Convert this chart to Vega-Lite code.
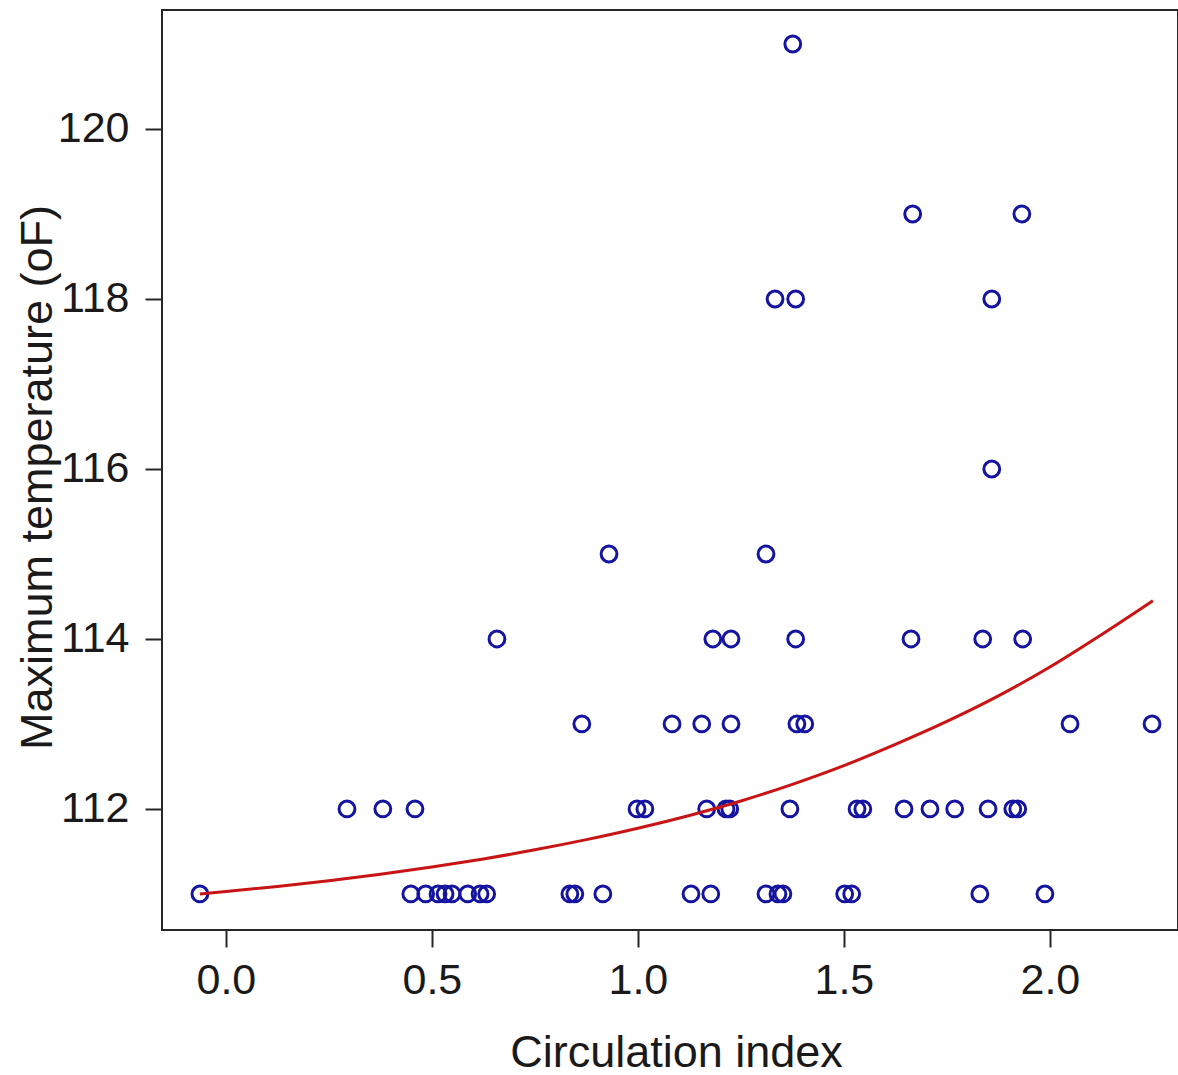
{
  "$schema": "https://vega.github.io/schema/vega-lite/v6.json",
  "width": 1016,
  "height": 920,
  "autosize": {"type": "none"},
  "padding": {"left": 162, "top": 10, "right": 0, "bottom": 145},
  "background": "white",
  "config": {
    "font": "Liberation Sans",
    "view": {"stroke": "#262626", "strokeWidth": 2},
    "axis": {
      "grid": false,
      "domain": false,
      "tickColor": "#262626",
      "tickWidth": 2,
      "tickSize": 17,
      "labelFont": "Liberation Sans",
      "labelFontSize": 43,
      "labelColor": "#1a1a1a",
      "titleFont": "Liberation Sans",
      "titleFontSize": 45,
      "titleFontWeight": "normal",
      "titleColor": "#1a1a1a"
    }
  },
  "datasets": {
    "obs": [
      {"circ": -0.063, "tmax": 111},
      {"circ": 0.449, "tmax": 111},
      {"circ": 0.485, "tmax": 111},
      {"circ": 0.515, "tmax": 111},
      {"circ": 0.532, "tmax": 111},
      {"circ": 0.549, "tmax": 111},
      {"circ": 0.587, "tmax": 111},
      {"circ": 0.617, "tmax": 111},
      {"circ": 0.633, "tmax": 111},
      {"circ": 0.835, "tmax": 111},
      {"circ": 0.847, "tmax": 111},
      {"circ": 0.915, "tmax": 111},
      {"circ": 1.129, "tmax": 111},
      {"circ": 1.177, "tmax": 111},
      {"circ": 1.311, "tmax": 111},
      {"circ": 1.340, "tmax": 111},
      {"circ": 1.352, "tmax": 111},
      {"circ": 1.502, "tmax": 111},
      {"circ": 1.519, "tmax": 111},
      {"circ": 1.830, "tmax": 111},
      {"circ": 1.988, "tmax": 111},
      {"circ": 0.294, "tmax": 112},
      {"circ": 0.381, "tmax": 112},
      {"circ": 0.459, "tmax": 112},
      {"circ": 0.998, "tmax": 112},
      {"circ": 1.017, "tmax": 112},
      {"circ": 1.167, "tmax": 112},
      {"circ": 1.214, "tmax": 112},
      {"circ": 1.223, "tmax": 112},
      {"circ": 1.369, "tmax": 112},
      {"circ": 1.532, "tmax": 112},
      {"circ": 1.546, "tmax": 112},
      {"circ": 1.646, "tmax": 112},
      {"circ": 1.709, "tmax": 112},
      {"circ": 1.769, "tmax": 112},
      {"circ": 1.850, "tmax": 112},
      {"circ": 1.910, "tmax": 112},
      {"circ": 1.922, "tmax": 112},
      {"circ": 0.864, "tmax": 113},
      {"circ": 1.083, "tmax": 113},
      {"circ": 1.155, "tmax": 113},
      {"circ": 1.226, "tmax": 113},
      {"circ": 1.386, "tmax": 113},
      {"circ": 1.405, "tmax": 113},
      {"circ": 2.049, "tmax": 113},
      {"circ": 2.248, "tmax": 113},
      {"circ": 0.658, "tmax": 114},
      {"circ": 1.182, "tmax": 114},
      {"circ": 1.226, "tmax": 114},
      {"circ": 1.383, "tmax": 114},
      {"circ": 1.663, "tmax": 114},
      {"circ": 1.837, "tmax": 114},
      {"circ": 1.934, "tmax": 114},
      {"circ": 0.930, "tmax": 115},
      {"circ": 1.311, "tmax": 115},
      {"circ": 1.859, "tmax": 116},
      {"circ": 1.333, "tmax": 118},
      {"circ": 1.383, "tmax": 118},
      {"circ": 1.859, "tmax": 118},
      {"circ": 1.667, "tmax": 119},
      {"circ": 1.932, "tmax": 119},
      {"circ": 1.376, "tmax": 121}
    ],
    "fit": [
      {"circ": -0.063, "tmax": 111.0},
      {"circ": 0.0, "tmax": 111.028},
      {"circ": 0.125, "tmax": 111.088},
      {"circ": 0.25, "tmax": 111.156},
      {"circ": 0.375, "tmax": 111.231},
      {"circ": 0.5, "tmax": 111.316},
      {"circ": 0.625, "tmax": 111.412},
      {"circ": 0.75, "tmax": 111.519},
      {"circ": 0.875, "tmax": 111.639},
      {"circ": 1.0, "tmax": 111.773},
      {"circ": 1.125, "tmax": 111.924},
      {"circ": 1.25, "tmax": 112.094},
      {"circ": 1.375, "tmax": 112.29},
      {"circ": 1.5, "tmax": 112.51},
      {"circ": 1.625, "tmax": 112.76},
      {"circ": 1.75, "tmax": 113.03},
      {"circ": 1.875, "tmax": 113.33},
      {"circ": 2.0, "tmax": 113.67},
      {"circ": 2.125, "tmax": 114.05},
      {"circ": 2.25, "tmax": 114.45}
    ]
  },
  "layer": [
    {
      "data": {"name": "obs"},
      "mark": {"type": "point", "shape": "circle", "filled": false, "size": 250, "strokeWidth": 3, "color": "#1414a0", "opacity": 1},
      "encoding": {
        "x": {
          "field": "circ",
          "type": "quantitative",
          "scale": {"domain": [-0.155, 2.311], "nice": false, "zero": false},
          "axis": {
            "title": "Circulation index",
            "values": [0, 0.5, 1, 1.5, 2],
            "format": ".1f",
            "labelPadding": 12,
            "titleX": 514,
            "titleY": 136,
            "titleBaseline": "alphabetic",
            "titleAlign": "center"
          }
        },
        "y": {
          "field": "tmax",
          "type": "quantitative",
          "scale": {"domain": [110.576, 121.4], "nice": false, "zero": false},
          "axis": {
            "title": "Maximum temperature (oF)",
            "values": [112, 114, 116, 118, 120],
            "format": "d",
            "labelPadding": 16,
            "titleX": -111,
            "titleY": 467,
            "titleAngle": 270,
            "titleBaseline": "alphabetic",
            "titleAlign": "center"
          }
        }
      }
    },
    {
      "data": {"name": "fit"},
      "mark": {"type": "line", "color": "#c81414", "strokeWidth": 3, "interpolate": "monotone"},
      "encoding": {
        "x": {"field": "circ", "type": "quantitative"},
        "y": {"field": "tmax", "type": "quantitative"}
      }
    }
  ]
}
